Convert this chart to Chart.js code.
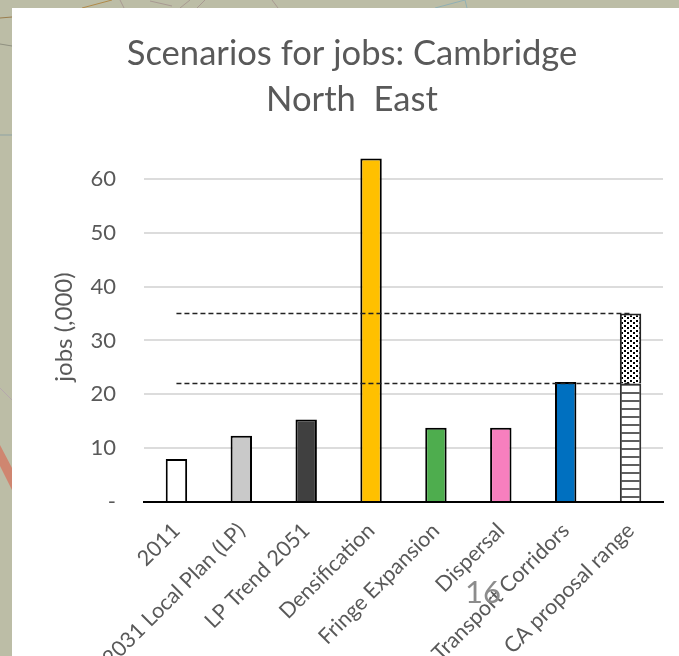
<!DOCTYPE html>
<html>
<head>
<meta charset="utf-8">
<title>Scenarios for jobs</title>
<script src="https://cdn.jsdelivr.net/npm/chart.js@4"></script>
<style>
    html, body { margin: 0; height: 100%; overflow: hidden; background: #bcbda6; }
    #map { position: absolute; left: 0; top: 0; }
    #panel { position: absolute; left: 12px; top: 8px; right: 0; bottom: 0; background: #fff; }
    #chart { position: absolute; left: 0; top: 0; }
    #slide-no { position: absolute; left: 465px; top: 572px; font: 31px Lato, sans-serif; color: #8c8c8c; }
</style>
</head>
<body>
<!-- bits of the map that show round the white panel -->
<svg id="map" width="679" height="656" fill="none">
    <path d="M82 8 L112 0" stroke="#b08a4a"/>
    <path d="M120 0 L124 8 M150 1 L172 6 M190 0 L180 8 M205 0 L197 8 M272 0 L278 8" stroke="#a89a92"/>
    <path d="M435 8 L465 0 L467 8" stroke="#8fb0b5"/>
    <path d="M0 18 L12 17" stroke="#9a7d4e"/>
    <path d="M0 44 L12 46" stroke="#8f9080"/>
    <path d="M0 135 L12 135" stroke="#8fa3a3"/>
    <path d="M0 388 L12 400" stroke="#b5a8ac"/>
    <path d="M0 445 L12 468 L12 490 L0 466 Z" fill="#cf8670"/>
</svg>
<div id="panel"></div>
<canvas id="chart" width="679" height="656"></canvas>
<div id="slide-no">16</div>
<script>
const categories = ["2011", "2031 Local Plan (LP)", "LP Trend 2051", "Densification", "Fringe Expansion", "Dispersal", "Transport Corridors", "CA proposal range"];
const jobs = [8, 12.3, 15.3, 63.8, 13.8, 13.8, 22.3, 22];
const rangeExtra = [null, null, null, null, null, null, null, 13];
const lowLine = [22, 22, 22, 22, 22, 22, 22, 22];
const highLine = [35, 35, 35, 35, 35, 35, 35, 35];
const yTicks = [0, 10, 20, 30, 40, 50, 60];

const ctx = document.getElementById("chart").getContext("2d");

// hatch fills for the CA proposal bar
function stripes() {
    const c = document.createElement("canvas");
    c.width = 8; c.height = 8;
    const p = c.getContext("2d");
    p.fillStyle = "#fff";
    p.fillRect(0, 0, 8, 8);
    p.fillStyle = "#5f5f5f";
    p.fillRect(0, 0, 8, 2);
    return ctx.createPattern(c, "repeat");
}

function dots() {
    const c = document.createElement("canvas");
    c.width = 6; c.height = 5;
    const p = c.getContext("2d");
    p.fillStyle = "#fff";
    p.fillRect(0, 0, 6, 5);
    p.fillStyle = "#000";
    p.fillRect(0, 0, 2, 2);
    p.fillRect(3, 2, 2, 2);
    return ctx.createPattern(c, "repeat");
}

const fontName = "Lato, sans-serif";
const textColor = "#595959";

new Chart(ctx, {
    data: {
        labels: categories,
        datasets: [
            {
                type: "line",
                data: highLine,
                stack: "high",
                borderColor: "#222",
                borderWidth: 1.6,
                borderDash: [5, 3],
                pointRadius: 0,
                order: 0
            },
            {
                type: "line",
                data: lowLine,
                stack: "low",
                borderColor: "#222",
                borderWidth: 1.6,
                borderDash: [5, 3],
                pointRadius: 0,
                order: 0
            },
            {
                type: "bar",
                data: jobs,
                stack: "bars",
                backgroundColor: ["#fff", "#c9c9c9", "#404040", "#ffc000", "#4ead4e", "#f77fbe", "#0070c0", stripes()],
                borderColor: ["#000", "#000", "#000", "#000", "#000", "#000", "#000", "#333"],
                borderWidth: 2,
                barPercentage: 0.33,
                categoryPercentage: 1,
                order: 1
            },
            {
                type: "bar",
                data: rangeExtra,
                stack: "bars",
                backgroundColor: dots(),
                borderColor: "#222",
                borderWidth: 2,
                barPercentage: 0.33,
                categoryPercentage: 1,
                order: 1
            }
        ]
    },
    options: {
        responsive: false,
        animation: false,
        layout: { padding: { left: 41, right: 16, top: 0, bottom: 0 } },
        plugins: {
            legend: { display: false },
            tooltip: { enabled: false },
            title: {
                display: true,
                text: ["Scenarios for jobs: Cambridge", "North  East"],
                color: textColor,
                font: { family: fontName, size: 34.6, weight: "normal", lineHeight: 1.33 },
                padding: { top: 31, bottom: 29 }
            }
        },
        scales: {
            x: {
                stacked: true,
                grid: { display: false },
                border: { color: "#000", width: 2 },
                ticks: {
                    color: textColor,
                    font: { family: fontName, size: 21.5 },
                    minRotation: 45,
                    maxRotation: 45,
                    autoSkip: false,
                    padding: 8
                },
                afterFit: function(scale) { scale.height = 154; }
            },
            y: {
                stacked: true,
                min: 0,
                max: 65,
                border: { display: false },
                grid: {
                    color: function(c) { return yTicks.includes(c.tick.value) ? "#dcdcdc" : "transparent"; },
                    lineWidth: 2,
                    drawTicks: false
                },
                title: {
                    display: true,
                    text: "jobs (,000)",
                    color: textColor,
                    font: { family: fontName, size: 24 },
                    padding: { top: 9, bottom: 0 }
                },
                ticks: {
                    color: textColor,
                    font: { family: fontName, size: 22 },
                    padding: 28,
                    stepSize: 10,
                    callback: function(v) {
                        if (!yTicks.includes(v)) return "";
                        return v === 0 ? "-" : v;
                    }
                },
                afterFit: function(scale) { scale.width = 103; }
            }
        }
    }
});
</script>
</body>
</html>
